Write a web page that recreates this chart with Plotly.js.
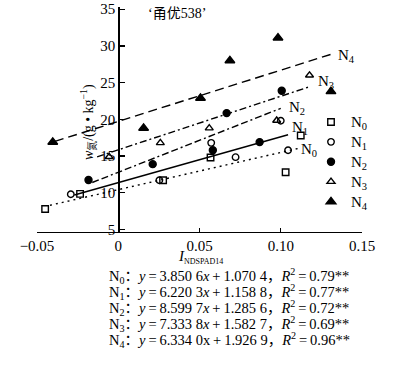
<!DOCTYPE html>
<html>
<head>
<meta charset="utf-8">
<script src="https://cdn.plot.ly/plotly-3.0.1.min.js"></script>
<style>html,body{margin:0;padding:0;background:#fff;}#chart{width:395px;height:370px;}</style>
</head>
<body>
<div id="chart"></div>
<script>
// ---- data ----
const seriesNames = ['N0', 'N1', 'N2', 'N3', 'N4'];
const n0X = [-0.045, -0.0235, 0.0276, 0.0568, 0.103, 0.1123];
const n0Y = [7.8, 9.85, 11.7, 14.8, 12.8, 17.8];
const n1X = [-0.0292, 0.0253, 0.0572, 0.0722, 0.1, 0.1045];
const n1Y = [9.8, 11.7, 16.8, 14.85, 19.8, 15.8];
const n2X = [-0.0183, 0.0212, 0.0582, 0.0667, 0.087, 0.1006];
const n2Y = [11.75, 13.9, 15.8, 20.85, 16.9, 23.9];
const n3X = [-0.0056, 0.0259, 0.056, 0.0975, 0.1177];
const n3Y = [14.9, 16.8, 18.8, 19.85, 26.0];
const n4X = [-0.0403, 0.0156, 0.0506, 0.0687, 0.0983, 0.1309];
const n4Y = [16.9, 18.8, 22.9, 28.0, 31.1, 23.8];

// fitted lines: end points
const fitStartX = [-0.042, -0.027, -0.016, -0.013, -0.039];
const fitStartY = [8.3, 9.7, 11.4, 14.9, 17.0];
const fitEndX = [0.111, 0.1045, 0.1, 0.1185, 0.133];
const fitEndY = [16.05, 17.9, 21.5, 24.5, 29.0];

// regression equations (text)
const eqSlope = ['3.850 6', '6.220 3', '8.599 7', '7.333 8', '6.334 0'];
const eqIntercept = ['1.070 4', '1.158 8', '1.285 6', '1.582 7', '1.926 9'];
const eqR2 = ['0.79', '0.77', '0.72', '0.69', '0.96'];

const xTickVals = [-0.05, 0, 0.05, 0.10, 0.15];
const xTickText = ['\u22120.05', '0', '0.05', '0.10', '0.15'];
const yTickVals = [5, 10, 15, 20, 25, 30, 35];
const yTickText = ['5', '10', '15', '20', '25', '30', '35'];

// ---- styles ----
const xs = [n0X, n1X, n2X, n3X, n4X];
const ys = [n0Y, n1Y, n2Y, n3Y, n4Y];
const symbols = ['square-open', 'circle-open', 'circle', 'triangle-up-open', 'triangle-up'];
const msizes = [6.5, 6.5, 7, 7, 8.5];
const dashes = ['2px,4px', 'solid', '7px,3px,7px,3px,2px,3px', '7px,3px,2px,3px', '9px,5px'];
const serif = '"Liberation Serif", "Times New Roman", serif';
const cjk = '"Liberation Serif", "Noto Sans CJK SC", serif';

// plot area in pixels
const W = 395, H = 370, L = 37, R = 33, T = 7, B = 138;
const pw = W - L - R, ph = H - T - B;
const px = v => (v - L) / pw;
const py = v => (H - B - v) / ph;

const traces = [];
for (let i = 0; i < 5; i++) {
  traces.push({
    x: [fitStartX[i], fitEndX[i]],
    y: [fitStartY[i], fitEndY[i]],
    mode: 'lines', type: 'scatter', showlegend: false, hoverinfo: 'skip',
    line: {color: '#000', width: 1.4, dash: dashes[i]}
  });
}
for (let i = 0; i < 5; i++) {
  const sub = seriesNames[i].slice(1);
  traces.push({
    x: xs[i], y: ys[i], mode: 'markers', type: 'scatter',
    name: '<span style="font-size:15px">N<sub>' + sub + '</sub></span>',
    marker: {symbol: symbols[i], size: msizes[i], color: '#000',
             line: {color: '#000', width: 1.4}}
  });
}

const ann = [];
// line-end labels
const lblPos = [[309, 150], [300, 128], [297, 108], [326, 82], [346, 56]];
for (let i = 0; i < 5; i++) {
  ann.push({xref: 'paper', yref: 'paper', x: px(lblPos[i][0]), y: py(lblPos[i][1]),
    xanchor: 'center', yanchor: 'middle', showarrow: false,
    text: 'N<sub>' + seriesNames[i].slice(1) + '</sub>',
    font: {family: serif, size: 15, color: '#000'}});
}
// title
ann.push({xref: 'paper', yref: 'paper', x: px(146), y: py(14), xanchor: 'left', yanchor: 'middle',
  showarrow: false, text: '\u2018甬优538\u2019', font: {family: cjk, size: 14, color: '#000'}});
// y label
ann.push({xref: 'paper', yref: 'paper', x: px(88), y: py(122), xanchor: 'center', yanchor: 'middle',
  showarrow: false, textangle: -90,
  text: '<i>w</i><sub>氮</sub>/(g • kg<sup>\u22121</sup>)', font: {family: cjk, size: 14, color: '#000'}});
// x label
ann.push({xref: 'paper', yref: 'paper', x: px(176), y: py(257), xanchor: 'left', yanchor: 'middle',
  showarrow: false, text: '<i>I</i><sub><span style="font-size:8px">NDSPAD14</span></sub>',
  font: {family: serif, size: 15, color: '#000'}});
// equations
const rowY = [276, 292, 308, 324, 340];
const sp = '\u2009';
for (let i = 0; i < 5; i++) {
  const xs_ = i === 4 ? 'x' : '<i>x</i>';
  ann.push({xref: 'paper', yref: 'paper', x: px(107), y: py(rowY[i]), xanchor: 'left', yanchor: 'middle',
    showarrow: false,
    text: 'N<sub>' + seriesNames[i].slice(1) + '</sub>：<i>y</i>' + sp + '=' + sp + eqSlope[i] + xs_ + sp + '+' + sp + eqIntercept[i] +
          '，<i>R</i><sup>2</sup>' + sp + '=' + sp + eqR2[i] + '**',
    font: {family: cjk, size: 14.5, color: '#000'}});
}

const layout = {
  width: W, height: H,
  margin: {l: L, r: R, t: T, b: B, pad: 0},
  paper_bgcolor: '#fff', plot_bgcolor: '#fff',
  showlegend: true,
  legend: {x: px(311), y: py(107), xanchor: 'left', yanchor: 'top',
    font: {family: serif, size: 13, color: '#000'}, bgcolor: 'rgba(0,0,0,0)', borderwidth: 0,
    itemwidth: 30, tracegroupgap: 0},
  xaxis: {range: [-0.05, 0.15], tickvals: xTickVals, ticktext: xTickText,
    showline: true, linecolor: '#000', linewidth: 1.3, ticks: 'inside', ticklen: 4, tickwidth: 1.3,
    tickcolor: '#000', showgrid: false, zeroline: false, mirror: false,
    tickfont: {family: serif, size: 15, color: '#000'}},
  yaxis: {range: [4.66, 35.3], tickvals: yTickVals, ticktext: yTickText,
    anchor: 'free', position: 0.25, side: 'left',
    showline: true, linecolor: '#000', linewidth: 1.3, ticks: 'inside', ticklen: 5, tickwidth: 1.3,
    tickcolor: '#000', showgrid: false, zeroline: false,
    tickfont: {family: serif, size: 15, color: '#000'}},
  annotations: ann
};

Plotly.newPlot('chart', traces, layout, {staticPlot: true, displayModeBar: false});
</script>
</body>
</html>
